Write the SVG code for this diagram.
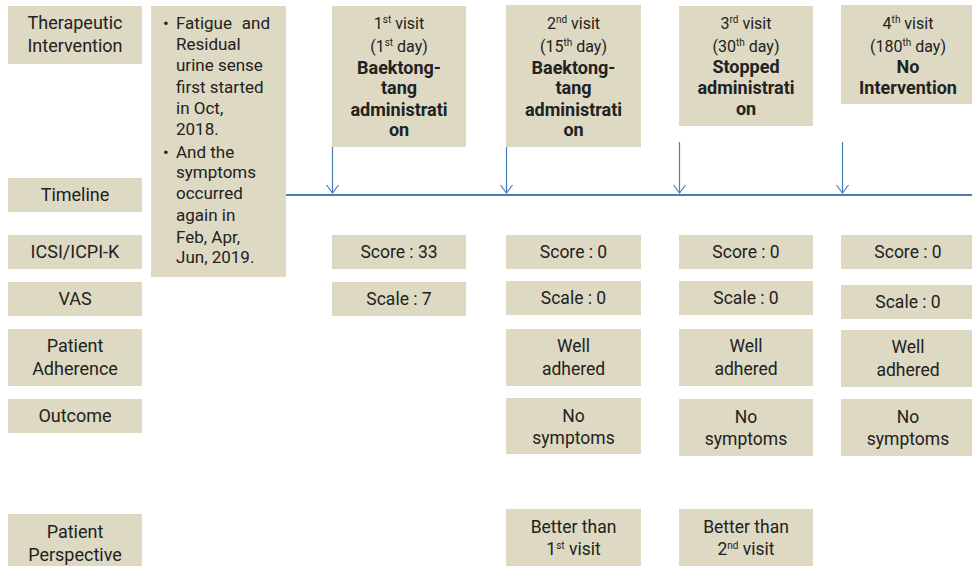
<svg xmlns="http://www.w3.org/2000/svg" width="972" height="566" viewBox="0 0 972 566">
<style>
.box{fill:#ddd9c3;}
text{font-family:Roboto,"Noto Sans","Liberation Sans",sans-serif;fill:#222;}
.lbl{font-size:18px;text-anchor:middle;}
.v{font-size:16px;text-anchor:middle;}
.b{font-size:18px;font-weight:bold;text-anchor:middle;}
.h{font-size:17px;}
.c{font-size:17.5px;text-anchor:middle;}
.conn{stroke:#4a7ebb;fill:none;}
</style>
<defs>
<marker id="ah" viewBox="0 0 10 14" refX="9" refY="7" markerWidth="10" markerHeight="14" markerUnits="userSpaceOnUse" orient="auto">
<path d="M1,1 L9,7 L1,13" fill="none" stroke="#4a7ebb" stroke-width="1.2"/>
</marker>
</defs>
<rect width="972" height="566" fill="#fff"/>

<g id="row-labels">
<g id="lbl-therapeutic"><rect class="box" x="8" y="6" width="134" height="58"/><text class="lbl" x="75" y="29">Therapeutic</text><text class="lbl" x="75" y="52">Intervention</text></g>
<g id="lbl-timeline"><rect class="box" x="8" y="178" width="134" height="34"/><text class="lbl" x="75" y="201">Timeline</text></g>
<g id="lbl-icsi"><rect class="box" x="8" y="235" width="134" height="34"/><text class="lbl" x="75" y="258">ICSI/ICPI-K</text></g>
<g id="lbl-vas"><rect class="box" x="8" y="282" width="134" height="34"/><text class="lbl" x="75" y="305">VAS</text></g>
<g id="lbl-adherence"><rect class="box" x="8" y="329" width="134" height="57"/><text class="lbl" x="75" y="352">Patient</text><text class="lbl" x="75" y="375">Adherence</text></g>
<g id="lbl-outcome"><rect class="box" x="8" y="399" width="134" height="34"/><text class="lbl" x="75" y="422">Outcome</text></g>
<g id="lbl-perspective"><rect class="box" x="8" y="514" width="134" height="52"/><text class="lbl" x="75" y="538">Patient</text><text class="lbl" x="75" y="561">Perspective</text></g>
</g>

<g id="history">
<rect class="box" x="151" y="6" width="135" height="271"/>
<text class="h" x="163" y="29">•</text>
<text class="h" x="176" y="29">Fatigue</text><text class="h" x="270" y="29" text-anchor="end">and</text>
<text class="h" x="176" y="50">Residual</text>
<text class="h" x="176" y="71">urine sense</text>
<text class="h" x="176" y="93">first started</text>
<text class="h" x="176" y="114">in Oct,</text>
<text class="h" x="176" y="135">2018.</text>
<text class="h" x="163" y="158">•</text>
<text class="h" x="176" y="158">And the</text>
<text class="h" x="176" y="178">symptoms</text>
<text class="h" x="176" y="199">occurred</text>
<text class="h" x="176" y="221">again  in</text>
<text class="h" x="176" y="243">Feb, Apr,</text>
<text class="h" x="176" y="263">Jun, 2019.</text>
</g>

<g id="visit1">
<rect class="box" x="332" y="6" width="134" height="141"/>
<text class="v" x="399" y="29">1<tspan font-size="10" dy="-6">st</tspan><tspan dy="6"> visit</tspan></text>
<text class="v" x="399" y="52">(1<tspan font-size="10" dy="-6">st</tspan><tspan dy="6"> day)</tspan></text>
<text class="b" x="399" y="74">Baektong-</text>
<text class="b" x="399" y="94">tang</text>
<text class="b" x="399" y="116">administrati</text>
<text class="b" x="399" y="136">on</text>
</g>
<g id="visit2">
<rect class="box" x="506" y="5" width="135" height="142"/>
<text class="v" x="573.5" y="29">2<tspan font-size="10" dy="-6">nd</tspan><tspan dy="6"> visit</tspan></text>
<text class="v" x="573.5" y="52">(15<tspan font-size="10" dy="-6">th</tspan><tspan dy="6"> day)</tspan></text>
<text class="b" x="573.5" y="74">Baektong-</text>
<text class="b" x="573.5" y="94">tang</text>
<text class="b" x="573.5" y="116">administrati</text>
<text class="b" x="573.5" y="136">on</text>
</g>
<g id="visit3">
<rect class="box" x="679" y="6" width="134" height="120"/>
<text class="v" x="746" y="29">3<tspan font-size="10" dy="-6">rd</tspan><tspan dy="6"> visit</tspan></text>
<text class="v" x="746" y="52">(30<tspan font-size="10" dy="-6">th</tspan><tspan dy="6"> day)</tspan></text>
<text class="b" x="746" y="73">Stopped</text>
<text class="b" x="746" y="94">administrati</text>
<text class="b" x="746" y="115">on</text>
</g>
<g id="visit4">
<rect class="box" x="841" y="5" width="135" height="99"/>
<text class="v" x="908" y="29">4<tspan font-size="10" dy="-6">th</tspan><tspan dy="6"> visit</tspan></text>
<text class="v" x="908" y="52">(180<tspan font-size="10" dy="-6">th</tspan><tspan dy="6"> day)</tspan></text>
<text class="b" x="908" y="73">No</text>
<text class="b" x="908" y="94">Intervention</text>
</g>

<g id="scores">
<g id="score1"><rect class="box" x="332" y="235" width="134" height="34"/><text class="c" x="399" y="258">Score : 33</text></g>
<g id="score2"><rect class="box" x="506" y="235" width="135" height="34"/><text class="c" x="573.5" y="258">Score : 0</text></g>
<g id="score3"><rect class="box" x="679" y="235" width="134" height="34"/><text class="c" x="746" y="258">Score : 0</text></g>
<g id="score4"><rect class="box" x="841" y="235" width="135" height="34"/><text class="c" x="908" y="258">Score : 0</text></g>
</g>
<g id="scales">
<g id="scale1"><rect class="box" x="332" y="282" width="134" height="34"/><text class="c" x="399" y="305">Scale : 7</text></g>
<g id="scale2"><rect class="box" x="506" y="281" width="135" height="34"/><text class="c" x="573.5" y="304">Scale : 0</text></g>
<g id="scale3"><rect class="box" x="679" y="281" width="134" height="34"/><text class="c" x="746" y="304">Scale : 0</text></g>
<g id="scale4"><rect class="box" x="841" y="285" width="135" height="34"/><text class="c" x="908" y="308">Scale : 0</text></g>
</g>
<g id="adherence">
<g id="adh2"><rect class="box" x="506" y="329" width="135" height="57"/><text class="c" x="573.5" y="352">Well</text><text class="c" x="573.5" y="375">adhered</text></g>
<g id="adh3"><rect class="box" x="679" y="329" width="134" height="57"/><text class="c" x="746" y="352">Well</text><text class="c" x="746" y="375">adhered</text></g>
<g id="adh4"><rect class="box" x="841" y="330" width="135" height="57"/><text class="c" x="908" y="353">Well</text><text class="c" x="908" y="376">adhered</text></g>
</g>
<g id="outcomes">
<g id="out2"><rect class="box" x="506" y="398" width="135" height="56"/><text class="c" x="573.5" y="422">No</text><text class="c" x="573.5" y="444">symptoms</text></g>
<g id="out3"><rect class="box" x="679" y="399" width="134" height="57"/><text class="c" x="746" y="423">No</text><text class="c" x="746" y="445">symptoms</text></g>
<g id="out4"><rect class="box" x="841" y="399" width="135" height="57"/><text class="c" x="908" y="423">No</text><text class="c" x="908" y="445">symptoms</text></g>
</g>
<g id="perspective">
<g id="per2"><rect class="box" x="506" y="509" width="135" height="57"/><text class="c" x="573.5" y="533">Better than</text><text class="c" x="573.5" y="555">1<tspan font-size="10" dy="-6">st</tspan><tspan dy="6"> visit</tspan></text></g>
<g id="per3"><rect class="box" x="679" y="509" width="134" height="57"/><text class="c" x="746" y="533">Better than</text><text class="c" x="746" y="555">2<tspan font-size="10" dy="-6">nd</tspan><tspan dy="6"> visit</tspan></text></g>
</g>

<g id="connectors">
<line class="conn" x1="286" y1="195" x2="972" y2="195" stroke-width="2"/>
<line class="conn" x1="332.5" y1="147" x2="332.5" y2="193" stroke-width="1.2" marker-end="url(#ah)"/>
<line class="conn" x1="506.5" y1="147" x2="506.5" y2="193" stroke-width="1.2" marker-end="url(#ah)"/>
<line class="conn" x1="679.5" y1="142" x2="679.5" y2="193" stroke-width="1.2" marker-end="url(#ah)"/>
<line class="conn" x1="842.5" y1="142" x2="842.5" y2="193" stroke-width="1.2" marker-end="url(#ah)"/>
</g>
</svg>
